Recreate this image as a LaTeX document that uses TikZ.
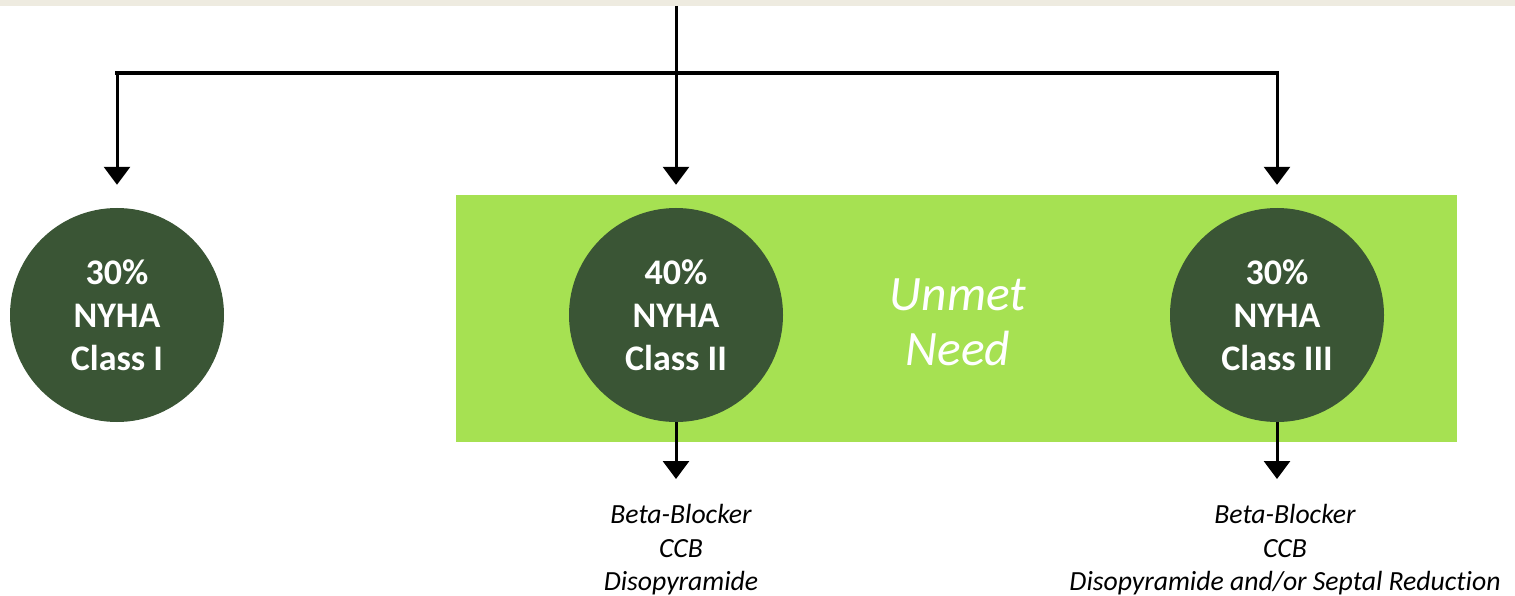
\documentclass[tikz,border=0pt]{standalone}
\usepackage{fontspec}
\setmainfont{Carlito}[Ligatures={NoCommon}]
\usetikzlibrary{arrows.meta}
\definecolor{strip}{HTML}{EEEBE0}
\definecolor{darkg}{HTML}{3A5535}
\definecolor{lightg}{HTML}{A6E152}
\tikzset{
  conn/.style={line width=3pt, draw=black},
  arr/.style={conn, -{Triangle[width=26pt,length=18pt]}},
  bar/.style={line width=4.5pt, draw=black},
  classnode/.style={circle, fill=darkg, minimum size=214pt, inner sep=0pt, text=white, align=center,
     font=\bfseries\fontsize{36pt}{43pt}\selectfont},
  unmetbox/.style={rectangle, fill=lightg, minimum width=1001pt, minimum height=247pt, inner sep=0pt},
  unmettext/.style={text=white, align=center, font=\itshape\fontsize{49.5pt}{55pt}\selectfont},
  treat/.style={align=center, font=\itshape\fontsize{27.7pt}{33.5pt}\selectfont, inner sep=0pt}
}
\begin{document}
\begin{tikzpicture}[x=1pt, y=-1pt]
\useasboundingbox (0,0) rectangle (1515,596);
\fill[strip] (0,0) rectangle (1515,6);
\node[unmetbox] (box) at (956.5,318.5) {};
\node[unmettext] (unmet) at (958,322) {Unmet\\Need};
\node[classnode] (c1) at (117,315) {30\%\\NYHA\\Class I};
\node[classnode] (c2) at (676,315) {40\%\\NYHA\\Class II};
\node[classnode] (c3) at (1277,315) {30\%\\NYHA\\Class III};
\coordinate (top) at (676,6);
\coordinate (j1) at (117,73);
\coordinate (j2) at (676,73);
\coordinate (j3) at (1277,73);
\coordinate (l) at (115,73);
\coordinate (r) at (1279,73);
\coordinate (b2) at (676,479);
\coordinate (b3) at (1277,479);
\draw[conn] (top) -- (j2);
\draw[bar] (l) -- (r);
\draw[arr] (j1) -- ([yshift=23pt]c1.north);
\draw[arr] (j2) -- ([yshift=23pt]c2.north);
\draw[arr] (j3) -- ([yshift=23pt]c3.north);
\node[treat] (t2) at (681,550) {Beta-Blocker\\CCB\\Disopyramide};
\node[treat] (t3) at (1285,550) {Beta-Blocker\\CCB\\Disopyramide and/or Septal Reduction};
\draw[arr] (c2.south) -- (b2);
\draw[arr] (c3.south) -- (b3);
\end{tikzpicture}
\end{document}
